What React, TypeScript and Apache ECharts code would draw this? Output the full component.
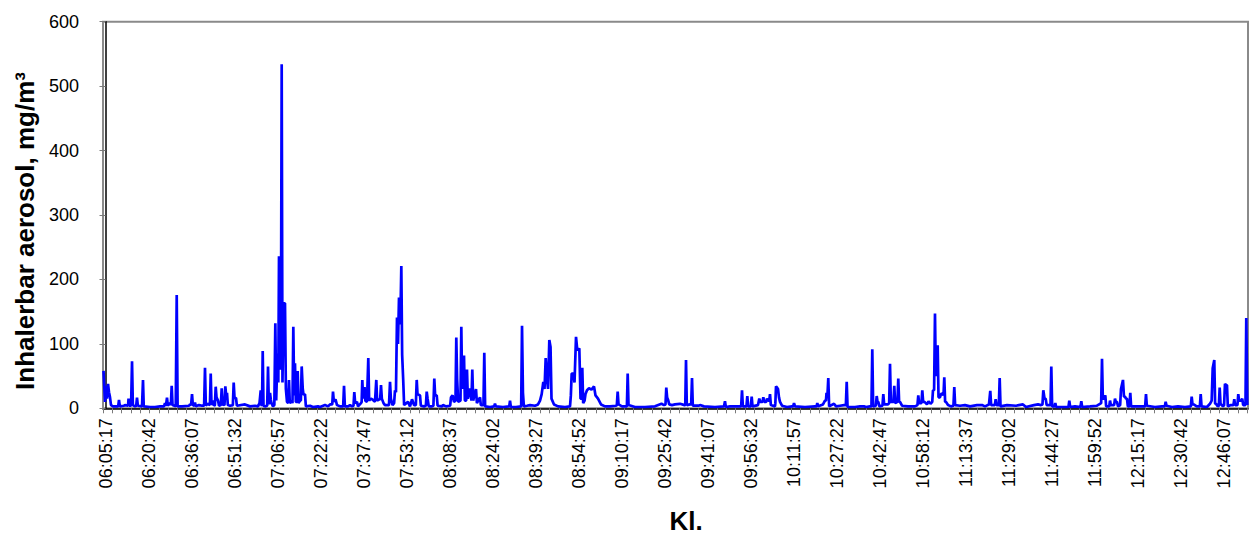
import { useEffect, useRef } from "react";
import * as echarts from "echarts";

// Recording starts at this clock time; readings are [seconds elapsed, mg/m³].
const START_CLOCK = "06:05:17";

// Time-axis labels shown under the chart.
const timeLabels = [
  "06:05:17", "06:20:42", "06:36:07", "06:51:32", "07:06:57", "07:22:22",
  "07:37:47", "07:53:12", "08:08:37", "08:24:02", "08:39:27", "08:54:52",
  "09:10:17", "09:25:42", "09:41:07", "09:56:32", "10:11:57", "10:27:22",
  "10:42:47", "10:58:12", "11:13:37", "11:29:02", "11:44:27", "11:59:52",
  "12:15:17", "12:30:42", "12:46:07",
];

// Value-axis ticks (mg/m³).
const yTickValues = [0, 100, 200, 300, 400, 500, 600];

// Readings grouped by clock hour: [seconds since START_CLOCK, inhalable aerosol mg/m³].
const hour06 = [
  [-43, 58], [-11, 10], [11, 35], [32, 15], [54, 38], [75, 25], [97, 17], [118, 5], [161, 3], [226, 3],
  [272, 3], [290, 13], [308, 3], [398, 4], [419, 5], [484, 4], [495, 15], [510, 4], [550, 4], [570, 73],
  [588, 5], [634, 3], [660, 4], [677, 16.5], [695, 4], [785, 3], [790, 3], [806, 44], [822, 3], [957, 2],
  [1064, 2], [1172, 3], [1258, 3], [1279, 8], [1300, 4], [1322, 16.5], [1340, 4], [1387, 8], [1405, 5], [1423, 35],
  [1441, 5], [1510, 3], [1531, 176], [1550, 3], [1645, 3], [1795, 4], [1817, 6], [1840, 5], [1860, 22], [1878, 5],
  [1910, 4], [1924, 9], [1940, 3], [2010, 5], [2075, 4], [2120, 4], [2139, 63], [2157, 4], [2193, 7], [2245, 5],
  [2262, 54], [2279, 5], [2301, 12], [2333, 4], [2352, 5], [2369, 33.5], [2387, 17], [2419, 12], [2440, 4], [2480, 5],
  [2498, 31], [2516, 6], [2558, 5], [2576, 34], [2594, 20], [2612, 24], [2630, 5], [2677, 4], [2738, 5], [2756, 40],
  [2774, 16], [2806, 16], [2824, 4], [2999, 6], [3107, 3], [3214, 4], [3279, 3],
];

const hour07 = [
  [3311, 8], [3337, 28], [3354, 5], [3365, 4], [3380, 89], [3397, 4], [3429, 3], [3476, 4], [3494, 65], [3512, 6],
  [3537, 24], [3555, 13], [3569, 8], [3601, 3], [3630, 5], [3651, 132], [3670, 12], [3698, 85], [3715, 40], [3730, 236],
  [3752, 97], [3770, 60], [3788, 534], [3805, 40], [3827, 163], [3859, 163], [3878, 30], [3902, 10], [3928, 8], [3945, 44],
  [3962, 8], [3999, 12], [4020, 8], [4038, 126.5], [4057, 20], [4074, 70], [4092, 10], [4115, 10], [4132, 58], [4150, 8],
  [4182, 12], [4200, 12], [4218, 65], [4240, 31], [4257, 21], [4289, 22], [4308, 3], [4397, 4], [4461, 2], [4569, 3],
  [4612, 2], [4719, 5], [4784, 3], [4827, 6], [4875, 6], [4891, 26], [4910, 10], [4945, 14], [4977, 5], [5042, 3],
  [5110, 3], [5128, 35], [5146, 3], [5214, 3], [5257, 5], [5300, 3], [5332, 4], [5349, 25], [5368, 8], [5407, 10],
  [5429, 3], [5493, 8], [5507, 10], [5521, 44], [5538, 15], [5569, 33], [5587, 12], [5622, 10], [5634, 10], [5650, 78],
  [5668, 12], [5708, 15], [5751, 13], [5794, 10], [5806, 10], [5822, 44], [5840, 12], [5880, 14], [5905, 14], [5923, 36],
  [5941, 15], [5977, 8], [6009, 5], [6095, 5], [6117, 41], [6135, 15], [6171, 5], [6205, 8], [6224, 28], [6245, 25],
  [6267, 141], [6289, 100], [6310, 172], [6338, 130], [6360, 221], [6378, 83], [6400, 45], [6420, 5], [6504, 10], [6547, 3],
  [6590, 14], [6633, 5], [6672, 5], [6691, 44], [6708, 22], [6762, 20], [6780, 4], [6848, 3],
];

const hour08 = [
  [6888, 4], [6906, 26], [6925, 15], [6950, 3], [7020, 3], [7050, 4], [7069, 46], [7087, 20], [7121, 20], [7140, 4],
  [7235, 3], [7256, 5], [7321, 3], [7410, 4], [7428, 17], [7461, 20], [7493, 10], [7525, 12], [7542, 110], [7560, 45],
  [7582, 10], [7632, 12], [7650, 126.5], [7668, 30], [7708, 82], [7726, 12], [7755, 12], [7772, 60], [7790, 15], [7837, 31],
  [7868, 12], [7886, 60], [7905, 12], [7966, 30], [7985, 8], [8052, 17], [8070, 5], [8126, 5], [8144, 86], [8162, 3],
  [8267, 2], [8356, 3], [8374, 7], [8392, 3], [8546, 2], [8680, 3], [8697, 12], [8715, 2], [8826, 2], [8937, 3],
  [8955, 128], [8975, 24], [8995, 3], [9062, 4], [9127, 5], [9234, 4], [9299, 6], [9342, 12], [9378, 22], [9413, 41],
  [9439, 30], [9464, 78], [9492, 45], [9514, 30], [9542, 106], [9568, 95], [9589, 15], [9643, 6], [9729, 3], [9879, 2],
  [9987, 3], [10005, 20], [10023, 54], [10058, 54], [10084, 40], [10116, 111], [10144, 90], [10187, 93], [10213, 15], [10235, 15],
  [10251, 63], [10270, 8], [10300, 12], [10320, 22], [10352, 28], [10395, 31], [10449, 29],
];

const hour09 = [
  [10503, 34], [10535, 20], [10589, 15], [10653, 6], [10739, 3], [10847, 3], [10976, 4], [10994, 5], [11012, 26], [11030, 6],
  [11105, 3], [11210, 3], [11227, 54], [11245, 5], [11384, 2], [11599, 2], [11814, 3], [11954, 7], [12008, 5], [12040, 6],
  [12057, 32], [12075, 17], [12100, 12], [12120, 6], [12180, 5], [12244, 6], [12352, 7], [12449, 5], [12465, 5], [12481, 75],
  [12498, 5], [12567, 6], [12592, 6], [12610, 47], [12627, 4], [12760, 4], [12782, 5], [12868, 3], [13104, 2], [13298, 3],
  [13319, 11], [13337, 2], [13427, 3], [13642, 3], [13667, 3], [13685, 28], [13703, 3], [13781, 3], [13799, 19], [13817, 3],
  [13875, 3], [13893, 18], [13911, 3], [14029, 5], [14057, 15], [14075, 10],
];

const hour10 = [
  [14093, 10], [14125, 10], [14143, 17], [14161, 10], [14179, 10], [14205, 10], [14222, 15], [14250, 12], [14270, 12], [14287, 22],
  [14305, 5], [14394, 3], [14402, 8], [14416, 34], [14440, 32], [14459, 30], [14480, 17], [14502, 10], [14545, 4], [14652, 2],
  [14760, 3], [14785, 3], [14803, 8], [14825, 3], [15039, 2], [15254, 3], [15288, 3], [15304, 8], [15322, 3], [15426, 6],
  [15469, 12], [15490, 12], [15502, 24], [15522, 20], [15540, 47], [15558, 3], [15663, 7], [15706, 3], [15792, 4], [15878, 5],
  [15918, 5], [15936, 41], [15954, 2], [16114, 2], [16222, 3], [16308, 3], [16351, 2], [16437, 3], [16468, 3], [16486, 91.5],
  [16505, 3], [16563, 4], [16581, 19], [16599, 10], [16615, 10], [16640, 3], [16705, 4], [16723, 22], [16741, 6], [16824, 6],
  [16849, 8], [16867, 69], [16885, 10], [16940, 10], [16959, 35], [16977, 8], [17027, 10], [17045, 46], [17063, 10], [17082, 10],
  [17125, 4], [17254, 3], [17404, 3], [17457, 5], [17475, 20], [17493, 8], [17512, 8], [17543, 8], [17561, 28], [17580, 10],
  [17609, 10], [17662, 6],
];

const hour11 = [
  [17695, 11], [17738, 7], [17775, 10], [17791, 28], [17815, 28], [17834, 147], [17852, 50], [17867, 50], [17892, 98], [17910, 17],
  [17941, 17], [17963, 22], [18000, 23], [18017, 20], [18034, 48], [18052, 10], [18071, 10], [18114, 5], [18178, 3], [18231, 4],
  [18249, 33], [18267, 5], [18372, 4], [18479, 5], [18587, 3], [18737, 5], [18845, 5], [18909, 3], [18995, 6], [19005, 6],
  [19023, 27], [19041, 5], [19121, 5], [19139, 14], [19157, 5], [19207, 5], [19225, 47], [19243, 3], [19382, 5], [19576, 4],
  [19726, 6], [19791, 2], [19963, 5], [20049, 6], [20113, 5], [20145, 6], [20163, 28], [20190, 15], [20214, 15], [20235, 5],
  [20318, 5], [20335, 65], [20353, 3], [20403, 3], [20421, 8], [20439, 2], [20586, 2], [20704, 2], [20722, 12], [20740, 2],
  [20844, 3], [20962, 2], [20980, 11], [20998, 2], [21167, 3],
];

const hour12 = [
  [21317, 4], [21382, 7], [21407, 8], [21425, 77], [21443, 15], [21461, 15], [21496, 20], [21514, 3], [21580, 3], [21597, 12],
  [21615, 5], [21686, 5], [21704, 15], [21722, 10], [21747, 10], [21770, 3], [21815, 5], [21833, 30], [21876, 44], [21897, 18],
  [21919, 18], [21940, 15], [21962, 15], [21980, 3], [22015, 3], [22033, 24], [22051, 3], [22199, 3], [22353, 3], [22371, 22],
  [22389, 4], [22564, 2], [22715, 3], [22776, 3], [22794, 10], [22812, 4], [22930, 2], [23059, 3], [23209, 2], [23335, 3],
  [23353, 18], [23371, 6], [23396, 6], [23461, 3], [23529, 3], [23547, 22], [23565, 3], [23682, 2], [23747, 7], [23783, 12],
  [23805, 62], [23839, 75], [23857, 7], [23876, 7], [23912, 3], [23937, 4], [23955, 32], [23973, 7], [24026, 3], [24050, 5],
  [24069, 38], [24090, 36], [24112, 36], [24130, 3], [24198, 5], [24251, 5], [24269, 14], [24287, 5], [24337, 5], [24355, 22],
  [24373, 12], [24398, 12], [24420, 12], [24441, 15], [24460, 5], [24510, 5], [24527, 140], [24549, 5],
];

// Visible span of the time axis (seconds from the start clock) and minor tick spacing.
const X_MIN = -54;
const X_MAX = 24564;
const MINOR_TICK_SEC = 200;

const FONT = '"Liberation Sans", Arial, Helvetica, sans-serif';

function toSeconds(clock: string): number {
  const [h, m, s] = clock.split(":").map(Number);
  return h * 3600 + m * 60 + s;
}

const startSec = toSeconds(START_CLOCK);

function clockAt(elapsed: number): string {
  const total = startSec + Math.round(elapsed);
  const h = Math.floor(total / 3600);
  const m = Math.floor((total % 3600) / 60);
  const s = total % 60;
  const p = (n: number) => String(n).padStart(2, "0");
  return `${p(h)}:${p(m)}:${p(s)}`;
}

export default function App() {
  const ref = useRef<HTMLDivElement>(null);

  useEffect(() => {
    document.body.style.margin = "0";
    if (!ref.current) return;
    const chart = echarts.init(ref.current, null, { renderer: "svg" });

    const labelValues = timeLabels.map((t) => toSeconds(t) - startSec);
    const tickValues: number[] = [];
    for (let v = X_MIN; v <= X_MAX; v += MINOR_TICK_SEC) tickValues.push(v);

    const points = [...hour06, ...hour07, ...hour08, ...hour09, ...hour10, ...hour11, ...hour12];

    chart.setOption({
      animation: false,
      backgroundColor: "#ffffff",
      grid: {
        left: 103,
        right: 8,
        top: 21.7,
        bottom: 141.7,
        show: true,
        borderColor: "#8a8a8a",
        borderWidth: 2,
        backgroundColor: "transparent",
      },
      xAxis: {
        type: "value",
        min: X_MIN,
        max: X_MAX,
        splitLine: { show: false },
        axisLine: { show: true, onZero: false, lineStyle: { color: "#000000", width: 1.5 } },
        axisTick: {
          show: true,
          customValues: tickValues,
          length: 5,
          lineStyle: { color: "#7a7a7a", width: 1 },
        },
        axisLabel: {
          customValues: labelValues,
          rotate: 90,
          margin: 10,
          fontSize: 18,
          color: "#000000",
          fontFamily: FONT,
          formatter: (v: number) => clockAt(v),
        },
      },
      yAxis: {
        type: "value",
        min: yTickValues[0],
        max: yTickValues[yTickValues.length - 1],
        interval: 100,
        splitLine: { show: false },
        axisLine: { show: true, lineStyle: { color: "#000000", width: 1.5 } },
        axisTick: { show: true, length: 6, lineStyle: { color: "#7a7a7a", width: 1 } },
        axisLabel: {
          margin: 24,
          fontSize: 18,
          color: "#000000",
          fontFamily: FONT,
        },
      },
      graphic: [
        {
          type: "text",
          x: 25,
          y: 231,
          rotation: Math.PI / 2,
          style: {
            text: "Inhalerbar aerosol, mg/m³",
            fill: "#000000",
            font: `bold 26px ${FONT}`,
            align: "center",
            verticalAlign: "middle",
            textAlign: "center",
            textVerticalAlign: "middle",
          },
        },
        {
          type: "text",
          x: 686,
          y: 521,
          style: {
            text: "Kl.",
            fill: "#000000",
            font: `bold 26px ${FONT}`,
            align: "center",
            verticalAlign: "middle",
            textAlign: "center",
            textVerticalAlign: "middle",
          },
        },
      ],
      series: [
        {
          type: "line",
          data: points,
          showSymbol: false,
          symbol: "none",
          lineStyle: { color: "#0000ff", width: 2.7 },
          itemStyle: { color: "#0000ff" },
          z: 3,
        },
      ],
    });

    return () => chart.dispose();
  }, []);

  return <div ref={ref} style={{ width: 1256, height: 550 }} />;
}
